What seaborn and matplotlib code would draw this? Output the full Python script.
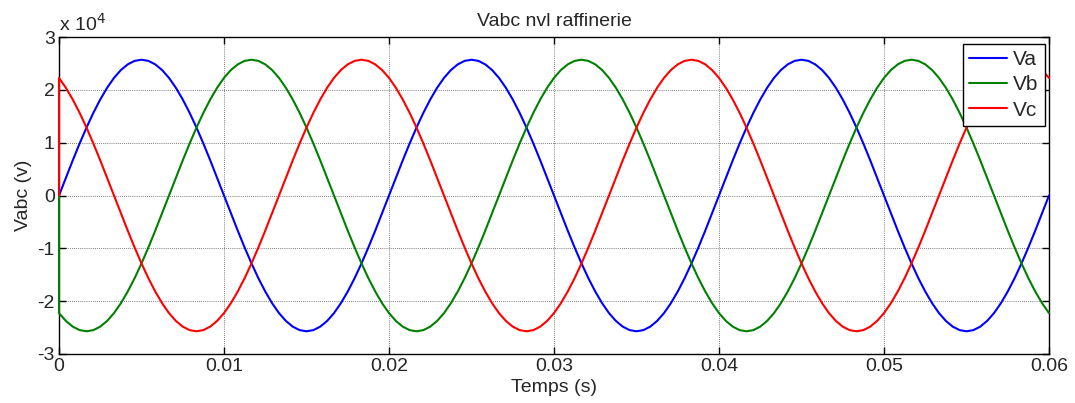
import numpy as np
import pandas as pd
import seaborn as sns
import matplotlib
matplotlib.use("Agg")
import matplotlib.pyplot as plt
from matplotlib.ticker import FuncFormatter

# time samples (s): initial point then 7.5-degree steps of a 50 Hz wave
time_s = [0.0] + list(np.linspace(0.0, 0.06, 145))

va = [0,
      0, 3350, 6650, 9840, 12850, 15650, 18170, 20390, 22260, 23740, 24820, 25480,
      25700, 25480, 24820, 23740, 22260, 20390, 18170, 15650, 12850, 9840, 6650, 3350,
      0, -3350, -6650, -9840, -12850, -15650, -18170, -20390, -22260, -23740, -24820, -25480,
      -25700, -25480, -24820, -23740, -22260, -20390, -18170, -15650, -12850, -9840, -6650, -3350,
      0, 3350, 6650, 9840, 12850, 15650, 18170, 20390, 22260, 23740, 24820, 25480,
      25700, 25480, 24820, 23740, 22260, 20390, 18170, 15650, 12850, 9840, 6650, 3350,
      0, -3350, -6650, -9840, -12850, -15650, -18170, -20390, -22260, -23740, -24820, -25480,
      -25700, -25480, -24820, -23740, -22260, -20390, -18170, -15650, -12850, -9840, -6650, -3350,
      0, 3350, 6650, 9840, 12850, 15650, 18170, 20390, 22260, 23740, 24820, 25480,
      25700, 25480, 24820, 23740, 22260, 20390, 18170, 15650, 12850, 9840, 6650, 3350,
      0, -3350, -6650, -9840, -12850, -15650, -18170, -20390, -22260, -23740, -24820, -25480,
      -25700, -25480, -24820, -23740, -22260, -20390, -18170, -15650, -12850, -9840, -6650, -3350,
      0]
vb = [0,
      -22260, -23740, -24820, -25480, -25700, -25480, -24820, -23740, -22260, -20390, -18170, -15650,
      -12850, -9840, -6650, -3350, 0, 3350, 6650, 9840, 12850, 15650, 18170, 20390,
      22260, 23740, 24820, 25480, 25700, 25480, 24820, 23740, 22260, 20390, 18170, 15650,
      12850, 9840, 6650, 3350, 0, -3350, -6650, -9840, -12850, -15650, -18170, -20390,
      -22260, -23740, -24820, -25480, -25700, -25480, -24820, -23740, -22260, -20390, -18170, -15650,
      -12850, -9840, -6650, -3350, 0, 3350, 6650, 9840, 12850, 15650, 18170, 20390,
      22260, 23740, 24820, 25480, 25700, 25480, 24820, 23740, 22260, 20390, 18170, 15650,
      12850, 9840, 6650, 3350, 0, -3350, -6650, -9840, -12850, -15650, -18170, -20390,
      -22260, -23740, -24820, -25480, -25700, -25480, -24820, -23740, -22260, -20390, -18170, -15650,
      -12850, -9840, -6650, -3350, 0, 3350, 6650, 9840, 12850, 15650, 18170, 20390,
      22260, 23740, 24820, 25480, 25700, 25480, 24820, 23740, 22260, 20390, 18170, 15650,
      12850, 9840, 6650, 3350, 0, -3350, -6650, -9840, -12850, -15650, -18170, -20390,
      -22260]
vc = [0,
      22260, 20390, 18170, 15650, 12850, 9840, 6650, 3350, 0, -3350, -6650, -9840,
      -12850, -15650, -18170, -20390, -22260, -23740, -24820, -25480, -25700, -25480, -24820, -23740,
      -22260, -20390, -18170, -15650, -12850, -9840, -6650, -3350, 0, 3350, 6650, 9840,
      12850, 15650, 18170, 20390, 22260, 23740, 24820, 25480, 25700, 25480, 24820, 23740,
      22260, 20390, 18170, 15650, 12850, 9840, 6650, 3350, 0, -3350, -6650, -9840,
      -12850, -15650, -18170, -20390, -22260, -23740, -24820, -25480, -25700, -25480, -24820, -23740,
      -22260, -20390, -18170, -15650, -12850, -9840, -6650, -3350, 0, 3350, 6650, 9840,
      12850, 15650, 18170, 20390, 22260, 23740, 24820, 25480, 25700, 25480, 24820, 23740,
      22260, 20390, 18170, 15650, 12850, 9840, 6650, 3350, 0, -3350, -6650, -9840,
      -12850, -15650, -18170, -20390, -22260, -23740, -24820, -25480, -25700, -25480, -24820, -23740,
      -22260, -20390, -18170, -15650, -12850, -9840, -6650, -3350, 0, 3350, 6650, 9840,
      12850, 15650, 18170, 20390, 22260, 23740, 24820, 25480, 25700, 25480, 24820, 23740,
      22260]

series_names = ["Va", "Vb", "Vc"]
colors = ["#0000ff", "#008000", "#ff0000"]
x_ticks = [0, 0.01, 0.02, 0.03, 0.04, 0.05, 0.06]
y_ticks = [-30000, -20000, -10000, 0, 10000, 20000, 30000]

sns.set_theme(style="white")
plt.rcParams["font.family"] = ["Liberation Sans", "DejaVu Sans"]

fig = plt.figure(figsize=(10.75, 4.03), dpi=100)
ax = fig.add_axes([59 / 1075, 1 - 354 / 403, (1049 - 59) / 1075, (354 - 37) / 403])
for name, vals, c in zip(series_names, [va, vb, vc], colors):
    sns.lineplot(x=time_s, y=vals, color=c, linewidth=1.5, sort=False,
                 estimator=None, label=name, ax=ax, zorder=3)
for ln in ax.lines:
    ln.set_clip_on(False)

ax.set_xlim(0, 0.06)
ax.set_ylim(-30000, 30000)
ax.set_xticks(x_ticks)
ax.set_yticks(y_ticks)
ax.xaxis.set_major_formatter(FuncFormatter(lambda v, p: "0" if v == 0 else f"{v:g}"))
ax.yaxis.set_major_formatter(FuncFormatter(lambda v, p: f"{v/1e4:g}"))
ax.tick_params(axis="both", direction="in", length=5, width=1, color="black",
               labelsize=14, top=True, right=True, bottom=True, left=True, pad=3)
ax.grid(True, color="#555555", linestyle=(0, (1, 1.5)), linewidth=0.6)
for s in ax.spines.values():
    s.set_visible(True)
    s.set_color("black")
    s.set_linewidth(1)
    s.set_zorder(2.5)

ax.set_title("Vabc nvl raffinerie", fontsize=14, pad=8)
ax.set_xlabel("Temps (s)", fontsize=14, labelpad=3)
ax.set_ylabel("Vabc (v)", fontsize=14, labelpad=4)
ax.text(0.0, 1.008, r"x 10$^4$", transform=ax.transAxes, fontsize=14,
        ha="left", va="bottom")

leg = ax.legend(loc="upper right", bbox_to_anchor=(0.9955, 0.978), fontsize=15,
                frameon=True, fancybox=False, handlelength=1.8, borderpad=0.3,
                labelspacing=0.3, handletextpad=0.3, borderaxespad=0)
leg.get_frame().set_edgecolor("black")
leg.get_frame().set_linewidth(1)
leg.get_frame().set_alpha(1)
leg.set_zorder(5)

fig.savefig("out.png", dpi=100, facecolor="white")
